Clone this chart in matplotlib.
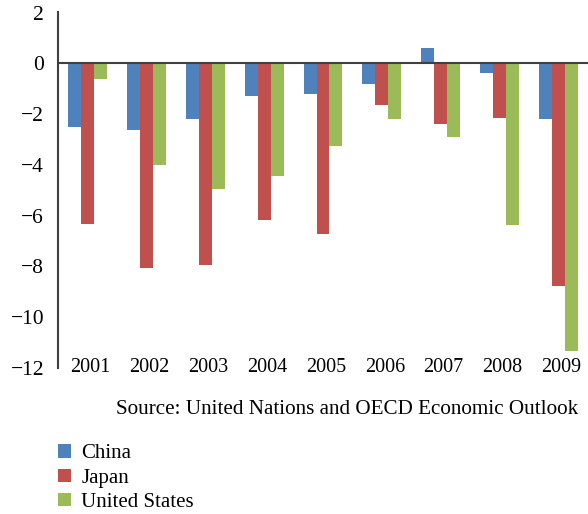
import matplotlib
matplotlib.use("Agg")
import matplotlib.pyplot as plt
import numpy as np

# Data
years = ["2001", "2002", "2003", "2004", "2005", "2006", "2007", "2008", "2009"]
china = [-2.51, -2.61, -2.20, -1.30, -1.19, -0.80, 0.62, -0.39, -2.20]
japan = [-6.31, -8.06, -7.93, -6.18, -6.71, -1.63, -2.39, -2.15, -8.77]
usa = [-0.63, -3.99, -4.97, -4.45, -3.27, -2.18, -2.91, -6.35, -11.33]
series_names = ["China", "Japan", "United States"]
colors = ["#4F81BD", "#C0504D", "#9BBB59"]
yticks = [2, 0, -2, -4, -6, -8, -10, -12]

plt.rcParams['font.family'] = ['Liberation Serif', 'DejaVu Serif']

fig = plt.figure(figsize=(5.88, 5.14), dpi=100)
ax = fig.add_axes([58 / 588, 1 - 368 / 514, 530 / 588, 355.5 / 514])

x = np.arange(len(years))
w = 0.22
handles = []
for i, (vals, c) in enumerate(zip([china, japan, usa], colors)):
    b = ax.bar(x + (i - 1) * w, vals, width=w, color=c, zorder=2)
    handles.append(b)

ax.axhline(0, color="#404040", lw=1.5, zorder=3)

ax.set_xlim(-0.5, 8.5)
ax.set_ylim(-12, 2)
ax.set_yticks(yticks)
ax.set_yticklabels([str(t).replace("-", "\u2212") for t in yticks], fontsize=15.5)
ax.tick_params(axis="y", length=0, pad=10)
ax.set_xticks([])

for s in ["top", "right", "bottom"]:
    ax.spines[s].set_visible(False)
ax.spines["left"].set_color("#404040")
ax.spines["left"].set_linewidth(1.5)

# year labels sit at the bottom of the plot area
for xi, yr in zip(x, years):
    ax.text(xi + 0.05, -12, yr, ha="center", va="center", fontsize=14.5)

fig.text(578 / 588, 1 - 410 / 514, "Source: United Nations and OECD Economic Outlook",
         ha="right", va="center", fontsize=15.2)

fig.legend(handles, series_names, loc="upper left", bbox_to_anchor=(48 / 588, 1 - 434 / 514),
           frameon=False, fontsize=15, handlelength=0.6, handleheight=0.6,
           handletextpad=0.5, labelspacing=0.25, borderpad=0)

fig.savefig("out.png", dpi=100)
